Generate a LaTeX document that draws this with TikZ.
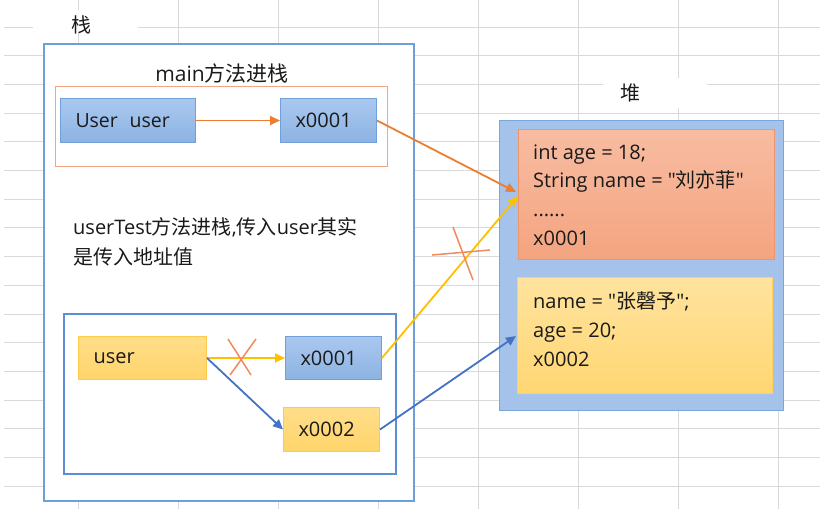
\documentclass[tikz,border=0pt]{standalone}
\usepackage{fontspec}
\setmainfont{Open Sans}[Ligatures=TeXOff]
\newfontfamily\cjk{Noto Sans CJK SC}[Ligatures=TeXOff]
\usetikzlibrary{arrows.meta}
\definecolor{gridc}{HTML}{D9D9D9}
\definecolor{stackc}{HTML}{6F9FDA}
\definecolor{innerc}{HTML}{5B8ED6}
\definecolor{frameor}{HTML}{F4A582}
\definecolor{btop}{HTML}{A9C8EE}
\definecolor{bbot}{HTML}{8DB3E3}
\definecolor{bdraw}{HTML}{6FA0D8}
\definecolor{ytop}{HTML}{FFDE8A}
\definecolor{ybot}{HTML}{FFD46A}
\definecolor{ydraw}{HTML}{FFC94A}
\definecolor{stop}{HTML}{F8BCA2}
\definecolor{sbot}{HTML}{F4A47F}
\definecolor{sdraw}{HTML}{EF9568}
\definecolor{heapf}{HTML}{A4C2EA}
\definecolor{heapd}{HTML}{7AA6DC}
\definecolor{h2top}{HTML}{FFE39E}
\definecolor{h2bot}{HTML}{FFD672}
\definecolor{h2draw}{HTML}{FFD05A}
\definecolor{aor}{HTML}{ED7D31}
\definecolor{ayel}{HTML}{FFC000}
\definecolor{ablue}{HTML}{4472C4}
\definecolor{xcol}{HTML}{F08A5D}
\definecolor{txt}{HTML}{1A1A1A}
\begin{document}
\begin{tikzpicture}[x=1pt,y=-1pt,
  every node/.style={text=txt, font=\fontsize{20}{28.7}\selectfont},
  frame/.style={anchor=north west, inner sep=0pt},
  cell/.style={anchor=north west, inner ysep=0pt, inner xsep=15pt, align=left, line width=1pt},
  bluecell/.style={cell, draw=bdraw, top color=btop, bottom color=bbot},
  yelcell/.style={cell, draw=ydraw, top color=ytop, bottom color=ybot},
  arr/.style={line width=1.8pt, -{Triangle[length=10pt,width=9pt]}},
  cross/.style={draw=xcol, line width=1.5pt}
]
\useasboundingbox (0,0) rectangle (833,509);
\fill[white] (0,0) rectangle (833,509);
% spreadsheet grid
\foreach \k in {0,...,16} \draw[gridc, line width=1pt] (4,{27+28.7*\k}) -- (820,{27+28.7*\k});
\foreach \k in {0,...,7} \draw[gridc, line width=1pt] ({78+100*\k},0) -- ({78+100*\k},509);
\fill[white] (33,10) rectangle (138,33);
\fill[white] (603,78) rectangle (707,108);
% stack
\node[frame, draw=stackc, line width=1.8pt, fill=white, minimum width=370pt, minimum height=457pt] (stack) at (43,43) {};
\node (stacklbl) at (81,25) {\cjk 栈};
\node[font=\fontsize{21}{28}\selectfont] (mainlbl) at (222,73) {main{\cjk 方法进栈}};
\node[frame, draw=frameor, line width=1.1pt, minimum width=332pt, minimum height=80pt] (mainframe) at (55,86) {};
\node[bluecell, text width=105pt, minimum height=44pt, font=\fontsize{19.5}{24}\selectfont] (mUser) at (60,98) {User\hspace{0.6em}user};
\node[bluecell, text width=66pt, minimum height=44pt] (mX1) at (280,98) {x0001};
\node[anchor=west, align=left, inner sep=0pt, font=\fontsize{20}{30}\selectfont] (utext) at (73,242) {userTest{\cjk 方法进栈},{\cjk 传入}user{\cjk 其实}\\{\cjk 是传入地址值}};
\node[frame, draw=innerc, line width=2.2pt, minimum width=332pt, minimum height=160pt] (uframe) at (63,313) {};
\node[yelcell, text width=98pt, minimum height=43pt] (uUser) at (78,336) {user};
\node[bluecell, text width=66pt, minimum height=43pt] (uX1) at (285,336) {x0001};
\node[yelcell, text width=66pt, minimum height=44pt] (uX2) at (283,407) {x0002};
% heap
\node (heaplbl) at (630,93) {\cjk 堆};
\node[frame, draw=heapd, line width=1.2pt, fill=heapf, minimum width=284pt, minimum height=290pt] (heap) at (499,120) {};
\node[frame, draw=sdraw, line width=1pt, top color=stop, bottom color=sbot, minimum width=256pt, minimum height=130pt] (h1) at (518,129) {};
\node[anchor=west, align=left, inner sep=0pt] (h1t) at (533,195) {int age = 18;\\String name = "{\cjk 刘亦菲}"\\......\\x0001};
\node[frame, draw=h2draw, line width=1pt, top color=h2top, bottom color=h2bot, minimum width=255pt, minimum height=116pt] (h2) at (517,277) {};
\node[anchor=west, align=left, inner sep=0pt] (h2t) at (533,329) {name = "{\cjk 张磬予}";\\age = 20;\\x0002};
% connectors
\coordinate (in1a) at (516,192);
\coordinate (in1b) at (518,196);
\coordinate (in2) at (516,336);
\draw[arr, aor] (mUser.east) -- (mX1.west);
\draw[arr, aor] (mX1.east) -- (in1a);
\draw[arr, ayel] (uUser.east) -- (uX1.west);
\draw[arr, ablue] (uUser.east) -- (uX2.west);
\draw[arr, ayel] (uX1.east) -- (in1b);
\draw[arr, ablue] (uX2.east) -- (in2);
% crosses
\draw[cross] (228,339) -- (251,375);
\draw[cross] (256,339) -- (230,375);
\draw[cross] (432,255) -- (490,250);
\draw[cross] (453,227) -- (473,280);
\end{tikzpicture}
\end{document}
